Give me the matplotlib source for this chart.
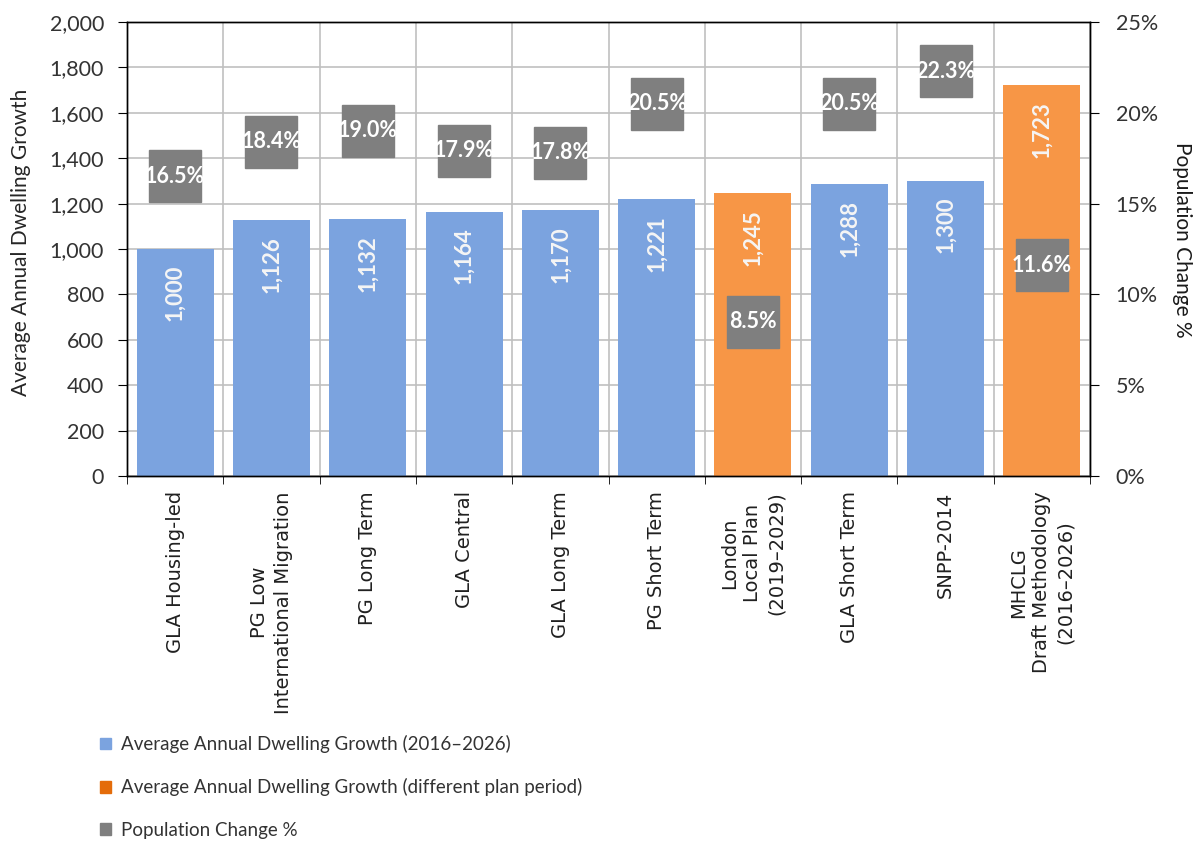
import numpy as np
import matplotlib.pyplot as plt
from matplotlib.patches import Patch
from matplotlib.ticker import FuncFormatter, MultipleLocator, FixedLocator

plt.rcParams['font.family'] = ['Lato', 'DejaVu Sans']

categories = ["GLA Housing-led", "PG Low\nInternational Migration", "PG Long Term",
              "GLA Central", "GLA Long Term", "PG Short Term",
              "London\nLocal Plan\n(2019\u20132029)", "GLA Short Term", "SNPP-2014",
              "MHCLG\nDraft Methodology\n(2016\u20132026)"]
dwellings = [1000, 1126, 1132, 1164, 1170, 1221, 1245, 1288, 1300, 1723]
different_period = [False, False, False, False, False, False, True, False, False, True]
pop_change = [16.5, 18.4, 19.0, 17.9, 17.8, 20.5, 8.5, 20.5, 22.3, 11.6]

blue = "#7ba3df"
orange = "#f79646"
orange_legend = "#e46c0a"
grey = "#7f7f7f"
txt = "#333333"

fig = plt.figure(figsize=(12, 8.52), dpi=100)
ax = fig.add_axes([127/1200, 1-476/852, 963/1200, 454/852])
ax2 = ax.twinx()

x = np.arange(len(categories))
colors = [orange if d else blue for d in different_period]
bars = ax.bar(x, dwellings, width=0.8, color=colors, zorder=2)

for xi, v in zip(x, dwellings):
    ax.annotate(f"{v:,}", (xi, v), xytext=(0, -11.5), textcoords="offset points",
                rotation=90, ha="center", va="top", color="#f5f5f5",
                fontsize=16, fontweight="bold", zorder=3)

ax.set_xlim(-0.5, len(categories) - 0.5)
ax.set_ylim(0, 2000)
ax.yaxis.set_major_locator(MultipleLocator(200))
ax.yaxis.set_major_formatter(FuncFormatter(lambda v, p: f"{int(v):,}"))
ax.set_xticks(x)
ax.set_xticklabels(categories, rotation=90, ha="center", va="top",
                   multialignment="center", fontsize=14, family="DejaVu Sans",
                   color="#202020", linespacing=1.3)
ax.xaxis.set_minor_locator(FixedLocator(np.arange(-0.5, len(categories), 1.0)))
ax.tick_params(axis="x", which="major", length=0, pad=11)
ax.tick_params(axis="x", which="minor", length=6, direction="out", color="black")
ax.tick_params(axis="y", length=6.5, pad=10, labelsize=15.5, labelcolor=txt)
ax.grid(axis="y", which="major", color="#c0c0c0", lw=1.2)
ax.grid(axis="x", which="minor", color="#c0c0c0", lw=1.2)
ax.set_axisbelow(True)
ax.set_ylabel("Average Annual Dwelling Growth", fontsize=15, color="#262626")
ax.yaxis.set_label_coords(-0.1, 0.515)

ax2.plot(x, pop_change, linestyle="none", marker="s", markersize=38,
         markerfacecolor=grey, markeredgecolor=grey, zorder=4)
for xi, p in zip(x, pop_change):
    ax2.text(xi, p, f"{p:.1f}%", ha="center", va="center", color="white",
             fontsize=15.5, fontweight="bold", zorder=5)
ax2.set_ylim(0, 25)
ax2.yaxis.set_major_locator(MultipleLocator(5))
ax2.yaxis.set_major_formatter(FuncFormatter(lambda v, p: f"{int(v)}%"))
ax2.tick_params(axis="y", length=6.5, pad=12, labelsize=15.5, labelcolor=txt)
ax2.set_ylabel("Population Change %", fontsize=15, color="#1a1a1a", rotation=-90, va="center")
ax2.yaxis.set_label_coords(1.096, 0.52)

for a in (ax, ax2):
    for s in a.spines.values():
        s.set_color("black")
        s.set_linewidth(1)

handles = [Patch(color=blue), Patch(color=orange_legend), Patch(color=grey)]
labels = ["Average Annual Dwelling Growth (2016\u20132026)",
          "Average Annual Dwelling Growth (different plan period)",
          "Population Change %"]
fig.legend(handles, labels, loc="upper left", bbox_to_anchor=(100/1200, 1-735/852),
           frameon=False, fontsize=13.5, handlelength=0.6, handleheight=0.6,
           handletextpad=0.5, labelspacing=1.35, borderpad=0, borderaxespad=0,
           labelcolor=txt)

fig.savefig("out.png", dpi=100)
